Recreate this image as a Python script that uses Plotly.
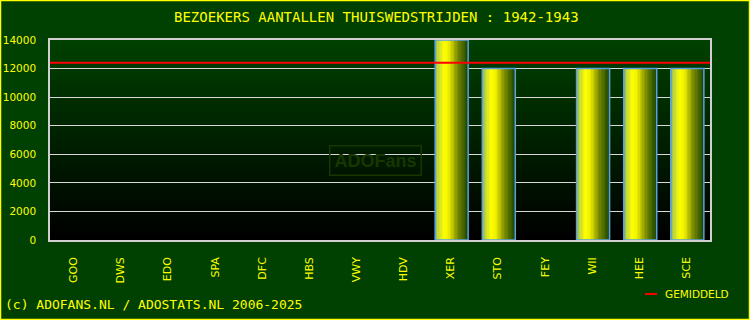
import plotly.graph_objects as go

# ---- data ----
categories = ["GOO", "DWS", "EDO", "SPA", "DFC", "HBS", "VWY", "HDV",
              "XER", "STO", "FEY", "WII", "HEE", "SCE"]
visitors = [None, None, None, None, None, None, None, None,
            14000, 12000, None, 12000, 12000, 12000]
y_ticks = [0, 2000, 4000, 6000, 8000, 10000, 12000, 14000]

played = [v for v in visitors if v is not None]
average = sum(played) / len(played)

W, H = 750, 320
ML, MR, MT, MB = 50, 40, 40, 80
PW, PH = W - ML - MR, H - MT - MB

BG = "#004000"
FG = "#ffff00"

fig = go.Figure()

# gradient bars built from narrow slices
stops = [(0.0, (130, 170, 100)), (0.1, (190, 215, 60)), (0.28, (255, 255, 0)),
         (0.42, (240, 240, 0)), (0.7, (120, 135, 0)), (1.0, (25, 70, 0))]


def grad(t):
    for (t0, c0), (t1, c1) in zip(stops[:-1], stops[1:]):
        if t0 <= t <= t1:
            f = (t - t0) / (t1 - t0)
            return "rgb(%d,%d,%d)" % tuple(round(a + (b - a) * f) for a, b in zip(c0, c1))
    return "rgb(%d,%d,%d)" % stops[-1][1]


BW = 0.70
N = 24
sw = BW / N
for i in range(N):
    t = (i + 0.5) / N
    fig.add_trace(go.Bar(
        x=categories, y=visitors,
        offset=-BW / 2 + 0.02 + i * sw, width=sw * 1.06,
        marker=dict(color=grad(t), line=dict(width=0)),
        showlegend=False, hoverinfo="skip"))

# outline
fig.add_trace(go.Bar(
    x=categories, y=visitors, offset=-BW / 2 + 0.02, width=BW,
    marker=dict(color="rgba(0,0,0,0)", line=dict(color="#5aa0e0", width=1.5)),
    showlegend=False, name="Bezoekers"))

shapes = []
# plot background vertical gradient
NB = 50
for k in range(NB):
    f = k / (NB - 1)
    g = round(64 * f)
    shapes.append(dict(type="rect", xref="paper", yref="paper",
                       x0=0, x1=1, y0=k / NB, y1=(k + 1) / NB + 0.002,
                       fillcolor="rgb(0,%d,0)" % g, line=dict(width=0), layer="below"))
# average line
shapes.append(dict(type="line", xref="paper", yref="y", x0=0, x1=1,
                   y0=average, y1=average, line=dict(color="#ff0000", width=2), layer="above"))
# legend sample
shapes.append(dict(type="line", xref="paper", yref="paper",
                   x0=(645 - ML) / PW, x1=(657 - ML) / PW,
                   y0=-(294 - MT - PH) / PH, y1=-(294 - MT - PH) / PH,
                   line=dict(color="#ff0000", width=2)))
# outer yellow border
shapes.append(dict(type="rect", xref="paper", yref="paper",
                   x0=-(ML - 0.5) / PW, x1=1 + (MR - 0.5) / PW,
                   y0=-(MB - 0.5) / PH, y1=1 + (MT - 0.5) / PH,
                   line=dict(color=FG, width=1.5), fillcolor="rgba(0,0,0,0)"))

annotations = [
    dict(text="BEZOEKERS AANTALLEN THUISWEDSTRIJDEN : 1942-1943",
         xref="paper", yref="paper", x=(376 - ML) / PW, y=1 + (MT - 17) / PH,
         showarrow=False, xanchor="center", yanchor="middle",
         font=dict(family="DejaVu Sans Mono", size=14, color=FG)),
    dict(text="(c) ADOFANS.NL / ADOSTATS.NL 2006-2025",
         xref="paper", yref="paper", x=-(ML - 3) / PW, y=-(304 - MT - PH) / PH,
         showarrow=False, xanchor="left", yanchor="middle",
         font=dict(family="DejaVu Sans Mono", size=13, color=FG)),
    dict(text="GEMIDDELD",
         xref="paper", yref="paper", x=(663 - ML) / PW, y=-(294 - MT - PH) / PH,
         showarrow=False, xanchor="left", yanchor="middle",
         font=dict(family="DejaVu Sans", size=10.5, color=FG)),
    dict(text="<b>ADOFans</b>",
         xref="paper", yref="paper", x=(375 - ML) / PW, y=(240 - 160) / PH,
         showarrow=False, xanchor="center", yanchor="middle",
         font=dict(family="Liberation Sans Narrow, Liberation Sans", size=18, color="#173600"),
         bordercolor="#173600", borderwidth=1.5, borderpad=4),
]

fig.update_layout(
    width=W, height=H,
    margin=dict(l=ML, r=MR, t=MT, b=MB, pad=0, autoexpand=False),
    paper_bgcolor=BG, plot_bgcolor="rgba(0,0,0,0)",
    barmode="overlay", bargap=0.3,
    showlegend=False,
    shapes=shapes, annotations=annotations,
    xaxis=dict(type="category", categoryorder="array", categoryarray=categories,
               tickangle=-90, tickfont=dict(family="DejaVu Sans", size=11, color=FG),
               showgrid=False, showline=True, linecolor="#d0d0d0", linewidth=1.5,
               mirror=True, ticks="", ticklabelstandoff=11, fixedrange=True,
               automargin=False),
    yaxis=dict(range=[0, 14000], tickvals=y_ticks, tickformat="d",
               tickfont=dict(family="DejaVu Sans", size=10.5, color=FG),
               showgrid=True, gridcolor="#d8d8d8", gridwidth=1,
               showline=True, linecolor="#d0d0d0", linewidth=1.5, mirror=True,
               zeroline=False, ticks="", ticklabelstandoff=10, fixedrange=True,
               automargin=False),
)

fig.write_html("out.html")
